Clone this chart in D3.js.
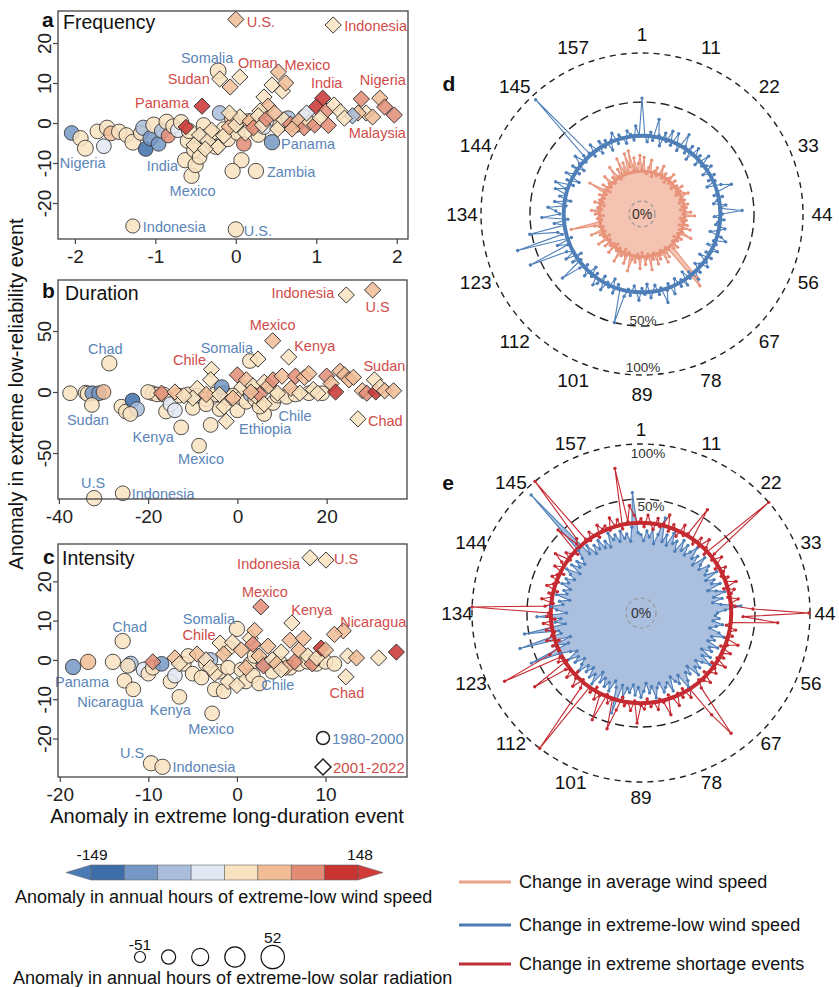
<!DOCTYPE html>
<html><head><meta charset="utf-8">
<script src="https://cdnjs.cloudflare.com/ajax/libs/d3/7.8.5/d3.min.js"></script>
<style>body{margin:0;background:#fff}svg{display:block}</style>
</head><body>
<svg id="c" width="839" height="987"></svg>
<script>
// ---------------- DATA ----------------
// scatter points: [x, y, windAnomaly, solarAnomaly, label]
const aCircles=[[-2.04,-2.5,-95,-20,"Nigeria"],[-1.93,-3.8,15,-15],[-1.87,-6.3,8,-10],[-1.72,-2.1,5,-20],[-1.64,-5.8,-25,-20],[-1.6,-1.2,12,-15],[-1.55,-2.6,45,-20],[-1.45,-2.2,20,-15],[-1.36,-3.0,22,-20],[-1.28,-4.8,25,-10],[-1.18,-2.5,10,-20],[-1.15,-1.2,-60,-15],[-1.12,-6.5,-115,-20],[-1.06,-3.8,-110,-15],[-1.02,-0.5,18,-10],[-0.96,-5.2,-95,-20],[-0.92,-2.0,-50,-20],[-0.86,0.3,10,-15],[-0.84,-3.2,85,-25],[-0.78,-0.8,12,-20],[-0.72,-1.8,-20,-20],[-0.68,0.2,8,-15],[-0.63,-9.3,15,-15,"India"],[-0.6,-4.5,10,-20],[-0.58,-2.0,20,-15],[-0.55,-13.2,5,-15,"Mexico"],[-0.52,-6.8,15,-20],[-0.5,-10.5,20,-15],[-0.45,-8.5,18,-20],[-0.4,-0.5,30,-20],[-0.38,-3.5,-30,-15],[-0.3,-2.5,25,-20],[-0.25,-6,12,-20],[-0.22,13,20,-10,"Somalia"],[-0.2,2.5,-60,-20],[-0.15,-1.5,30,-20],[-0.1,-4,15,-15],[-0.05,1.2,45,-20],[0.0,-26.6,25,-15,"U.S."],[0.02,-2.5,20,-20],[0.07,-9.3,2,-15],[-0.04,-12,22,-15],[0.1,-5.2,95,-20],[0.15,0.5,40,-20],[0.25,-12,20,-15,"Zambia"],[0.28,-3,15,-20],[0.35,-1.0,-20,-20],[0.45,-4.8,-100,-15,"Panama"],[0.55,-0.5,30,-20],[0.65,1.2,-55,-20],[0.75,-0.5,15,-20],[0.85,1.5,10,-20],[-1.28,-25.75,30,-25,"Indonesia"]];
const aDiamonds=[[0.0,25.9,45,-20,"U.S."],[1.21,24.5,25,-20,"Indonesia"],[-0.2,11,25,-20,"Sudan"],[0.05,11.5,25,-20,"Oman"],[-0.07,9,60,-20],[0.53,12.75,60,-20,"Mexico"],[0.45,9.5,20,-20],[0.58,8,30,-20],[0.62,10,40,-20],[0.35,6.5,25,-20],[0.4,4.2,45,-20],[0.3,3,20,-20],[1.08,6.2,115,-20,"India"],[1.0,4,115,-20],[1.12,3,90,-20],[1.22,4.5,30,-20],[1.3,2.8,20,-20],[1.56,6,80,-20],[1.79,6.2,70,-20,"Nigeria"],[1.85,4,85,-20],[1.97,2,105,-20,"Malaysia"],[1.62,2.5,30,-20],[1.52,2.5,45,-20],[1.45,1.8,-60,-20],[1.7,1.5,50,-20],[-0.42,4.2,120,-20,"Panama"],[-0.62,-1,115,-25],[-0.45,-3,30,-20],[-0.35,-4.5,25,-20],[-0.3,-1.8,20,-20],[-0.22,-6,30,-20],[-0.15,-3.2,25,-20],[-0.08,-1,45,-20],[0.0,-0.5,20,-20],[0.05,1.5,35,-20],[0.12,-2.5,25,-20],[0.18,0.5,60,-20],[0.22,-1.2,75,-20],[0.28,1.8,30,-20],[0.33,-0.5,20,-20],[0.38,1.0,85,-20],[0.48,2.5,40,-20],[0.52,-1.5,30,-20],[0.6,0.8,25,-20],[0.68,-0.3,90,-20],[0.78,0.5,45,-20],[0.85,-1.2,100,-20],[0.92,0.2,25,-20],[0.98,-0.5,95,-20],[1.05,1.2,30,-20],[0.88,2.5,-10,-20],[-0.52,-5.5,30,-20],[-0.38,-6.5,25,-20],[-0.08,2.5,30,-20],[0.7,-1.5,60,-20],[1.15,-0.6,80,-20],[1.35,1.2,35,-20]];

const bCircles=[[-37.5,-1,10,-20],[-34,-0.5,30,-20],[-33.5,-1.5,20,-15],[-32.5,-1,-100,-20],[-31,-1,-90,-20],[-30,0,55,-20],[-32.6,-10.6,20,-20,"Sudan"],[-28.7,23.5,30,-15,"Chad"],[-26,-12,15,-20],[-25,-16,10,-20],[-23.5,-7,-120,-20],[-22.5,-14,-40,-20],[-24,-18,10,-20],[-19,-1,15,-20],[-18,-2,20,-20],[-16.5,-2,10,-20],[-16,-16,5,-20],[-15,-10,-30,-20],[-14,-15,-10,-20],[-13,-3,25,-20],[-12.6,-29,35,-20,"Kenya"],[-11,-2,15,-20],[-10,-13,20,-20],[-9,-3,-10,-20],[-8.6,-44,5,-20,"Mexico"],[-7,-6,20,-20],[-6,-27,30,-20],[-5,-2,15,-20],[-4,-14,25,-20],[-3,-1,-80,-20],[-2,-5,10,-20],[-1,-3,20,-20],[0,-15,5,-20],[1,-5,15,-20],[2,-8,25,-20],[3,-2,-40,-20],[4,-6,20,-20],[2.8,25.4,30,-20,"Somalia"],[6,-18,25,-20,"Ethiopia"],[8,-9,20,-20,"Chile"],[9,-3,15,-20],[11,-4,20,-20],[13,-2,10,-20],[16,-1,15,-20],[19,-1,10,-20],[-32.1,-87,25,-15,"U.S"],[-25.7,-83,35,-20,"Indonesia"],[-20,0,10,-20],[-7,-10,15,-20],[-3.5,4,-90,-20],[5,-12,20,-20]];
const bDiamonds=[[24.4,79.5,30,-20,"Indonesia"],[30.3,83.6,40,-20,"U.S"],[7.9,42,70,-20,"Mexico"],[11.5,28.7,25,-20,"Kenya"],[4.6,27,25,-20],[-5.8,18.5,30,-20,"Chile"],[30.7,10,30,-20,"Sudan"],[27,-22,30,-20,"Chad"],[-17,-1,80,-20],[-14,0,40,-20],[-9,3,30,-20],[-7,-2,40,-20],[-6,10,25,-20],[-4,-2,25,-20],[-3,-12,30,-20],[-2.5,-24,30,-20],[-1,-5,50,-20],[0,14,80,-20],[1,4,30,-20],[2,10,60,-20],[3.5,5,25,-20],[4,-3,35,-20],[5,-2,80,-20],[6,8,20,-20],[7,5,60,-20],[8,10,90,-20],[9,-1,30,-20],[10,13,40,-20],[12,3,60,-20],[13,13,80,-20],[14,-1,25,-20],[15,12,70,-20],[16,15,40,-20],[17,2,30,-20],[18,-1,20,-20],[20,13,80,-20],[21,7,60,-20],[22,0,120,-20],[23,17,60,-20],[24,14,70,-20],[25,10,50,-20],[26,12,60,-20],[28,1,40,-20],[29,-1,100,-20],[31,0,120,-20],[32,4,30,-20],[33,1,40,-20],[35,1,60,-20],[-10,-5,30,-20],[-12,-3,20,-20],[6,-10,25,-20],[3,0,40,-20]];

const cCircles=[[-18.5,-1.8,-110,-15,"Panama"],[-16.8,-0.5,50,-15],[-14,-0.5,10,-15],[-12.9,4.8,30,-15,"Chad"],[-12.7,-5.3,20,-20],[-11.7,-7.5,25,-20,"Nicaragua"],[-12,-1,-40,-15],[-12.3,-1.5,15,-20],[-10.5,-2.5,-30,-15],[-10,-3.5,25,-20],[-9.5,-2,10,-20],[-8.5,-1,-100,-20],[-7.5,-5.5,15,-20],[-7,-4,-20,-20],[-6.5,-9.4,30,-20,"Kenya"],[-6,-1,20,-20],[-5,-3.5,25,-20],[-4,-4.5,15,-20],[-3.5,-1,10,-20],[-2.8,-13.6,8,-20,"Mexico"],[-2.5,-7.5,10,-20],[-2,-3,20,-20],[-1.5,-8,15,-20],[-1,-2,25,-20],[0,7.9,25,-15,"Somalia"],[0.5,-2.5,20,-20],[1,-5.5,15,-20],[1.5,-1,30,-20],[1.8,-4,20,-20,"Chile"],[2,1,10,-20],[3,-1,-50,-20],[4,-3,20,-20],[5,-1,15,-20],[6,-2,10,-20],[7,-1,20,-20],[8,-0.5,10,-20],[9,-1,15,-20],[10,-0.5,5,-20],[11,-1,10,-20],[-9.7,-26.3,25,-15,"U.S"],[-8.4,-27.2,35,-15,"Indonesia"],[-3,0,-60,-20],[-1,3,20,-20],[2.5,-6,15,-20],[-5.5,1,20,-20]];
const cDiamonds=[[8.25,26,25,-20,"Indonesia"],[10.05,25.4,25,-20,"U.S"],[2.7,13.5,75,-20,"Mexico"],[6.2,9.4,25,-20,"Kenya"],[12,7.4,60,-20,"Nicaragua"],[12.3,-4.3,35,-20,"Chad"],[-1.9,4.3,25,-20,"Chile"],[-9.5,-0.5,90,-20],[-7,0.5,50,-20],[-6.5,-1,30,-20],[-4.5,1.5,40,-20],[-3.5,0,30,-20],[-2.5,-3.5,25,-20],[-1.5,1.5,40,-20],[-1,-5.5,30,-20],[-0.5,4.5,25,-20],[0,-6.5,35,-20],[0.5,2.5,60,-20],[1,-2,40,-20],[1.5,5.5,30,-20],[2,7.5,70,-20],[2.5,1,50,-20],[3,-1.5,80,-20],[3.5,3.5,40,-20],[4,0,30,-20],[4.5,-1,60,-20],[5,2,35,-20],[5.5,-2,45,-20],[6,5,50,-20],[6.5,-0.5,80,-20],[7,2.5,40,-20],[7.5,5.5,60,-20],[8,1,30,-20],[8.5,-1,90,-20],[9,0.5,25,-20],[9.5,3,115,-20],[10,2.5,40,-20],[11,6.5,60,-20],[12.5,1,30,-20],[13.5,0.5,50,-20],[16,0.5,10,-20],[18,2,120,-20],[-3,-2,30,-20],[1.8,4,80,-20],[5,-2.5,25,-20]];

// axis ticks
const aXTicks=[-2,-1,0,1,2], aYTicks=[-20,-10,0,10,20];
const bXTicks=[-40,-20,0,20], bYTicks=[-50,0,50];
const cXTicks=[-20,-10,0,10], cYTicks=[-20,-10,0,10,20];

// colour legend
const windBreaks=[-112,-75,-38,0,37,74,111];
const windRange=[-149,148];
const solarLegend=[-51,-25,0,26,52];

// radial series (% change, one value per country, 176 countries)
const dAvgWind=[16,22,15,14,17,21,15,13,16,18,14,15,20,16,14,17,
15,13,16,19,14,15,17,14,13,16,15,18,14,16,13,17,
19,15,14,16,13,15,17,14,16,13,15,18,14,20,15,13,
16,14,15,17,13,19,15,14,16,21,14,15,17,13,16,15,
14,18,15,17,36,40,16,14,19,15,21,14,16,18,15,20,
14,17,15,22,14,16,19,15,13,21,16,14,18,15,17,23,
15,14,20,16,13,17,15,21,14,16,15,13,19,14,16,15,
18,14,15,20,13,16,15,17,14,21,15,14,16,18,30,15,
14,16,15,13,17,15,19,14,16,15,13,18,14,16,15,14,
17,15,14,24,16,13,18,15,14,16,20,15,14,17,15,22,
16,14,19,15,24,16,21,15,25,18,26,16,22,15,19,23];
const dLowWind=[54,33,30,35,31,42,34,29,36,32,38,31,38,33,30,40,
34,31,36,29,37,33,35,30,38,32,34,36,30,33,35,31,
34,29,36,41,33,31,35,32,30,36,33,44,34,30,35,32,
31,36,33,29,35,38,32,34,30,36,33,31,35,29,34,36,
32,30,35,33,37,31,34,29,36,32,35,30,33,37,31,34,
40,32,35,30,33,36,29,34,31,37,33,30,35,32,36,50,
33,31,36,29,34,32,37,30,35,37,31,34,29,36,33,31,
35,45,32,36,30,38,33,36,61,34,39,31,68,35,37,52,
33,38,31,44,35,37,41,32,38,30,36,33,39,34,40,31,
35,29,37,33,31,36,30,34,38,32,35,95,34,31,37,33,
30,36,32,35,29,34,37,31,35,33,30,36,34,31,38,33];
const eLowWind=[32,29,34,31,35,28,33,42,30,34,29,36,31,33,28,35,
30,34,29,32,36,30,33,28,35,31,29,34,32,30,36,29,
33,31,35,28,32,36,30,34,29,33,43,35,31,30,32,29,
34,31,28,33,36,30,32,29,35,31,33,28,34,30,36,32,
29,33,31,35,28,32,30,34,37,29,33,31,28,35,30,32,
34,29,31,36,30,33,28,32,35,30,34,29,33,31,36,30,
45,32,29,35,31,34,30,33,28,36,31,34,29,33,30,35,
32,29,34,31,36,30,33,38,56,32,40,30,61,34,35,54,
31,36,33,45,30,35,38,32,34,29,36,31,33,30,35,32,
34,30,33,36,29,35,31,34,30,33,37,93,32,36,30,34,
31,35,30,33,29,36,32,34,30,35,31,33,29,36,56,33];
const eShortage=[40,36,42,38,35,41,37,39,44,36,40,38,35,42,37,39,
58,38,36,41,37,43,39,36,100,40,37,42,38,36,41,39,
37,40,38,43,36,41,39,37,42,38,40,49,99,44,71,38,
36,41,38,40,37,44,39,36,42,38,40,37,43,36,39,41,
38,36,42,39,37,41,83,59,38,42,36,40,37,43,38,36,
46,39,37,42,38,40,36,41,39,48,37,42,38,40,36,43,
56,38,41,37,53,39,42,36,40,38,100,41,37,43,39,36,
42,38,40,64,37,41,39,85,43,38,40,36,42,39,37,41,
38,42,36,40,39,100,41,37,43,38,40,36,42,39,37,41,
39,36,42,38,40,45,37,41,38,36,53,40,42,100,39,37,
41,38,36,42,39,40,37,43,38,41,36,80,39,47,42,38];
const ringLevels={dAvg:15,dLow:33,eShort:38};
const radialTicks=["1","11","22","33","44","56","67","78","89","101","112","123","134","144","145","157"];
const pctLevels=[0,50,100];
const lineLegend=["Change in average wind speed","Change in extreme-low wind speed","Change in extreme shortage events"];

// ---------------- STYLE / LAYOUT ----------------
const FONT='"Liberation Sans", Arial, Helvetica, sans-serif';
const RED='#d14b49', BLUE='#5b85b8';
const binColors=["#3e6ea9","#7497c4","#a9bedb","#e2e8f3","#f9e2c0","#f1bc96","#e28c75","#c93331"];
const ORANGE='#e8937a', ORANGE_FILL='#f4c3b1', LBLUE='#4f7fb8', BFILL='#abc0df', DRED='#c52a31';
const color=d3.scaleThreshold().domain(windBreaks).range(binColors);
const size=d3.scaleLinear().domain([solarLegend[0],solarLegend[4]]).range([5.5,11.7]);
const svg=d3.select('#c').attr('font-family',FONT);

// label offsets [dx,dy,anchor] keyed by panel|name|type
const LAB={
 'a|Nigeria|c':[11,30,'middle'],'a|India|c':[-7,6,'end'],'a|Mexico|c':[1,15,'middle'],'a|Somalia|c':[-11,-13,'middle'],'a|U.S.|c':[8,2,'start'],'a|Zambia|c':[11,1,'start'],'a|Panama|c':[9,2,'start'],'a|Indonesia|c':[10,1,'start'],
 'a|U.S.|d':[11,3,'start'],'a|Indonesia|d':[11,1,'start'],'a|Sudan|d':[-10,0,'end'],'a|Oman|d':[18,-14,'middle'],'a|Mexico|d':[29,-7,'middle'],'a|India|d':[4,-15,'middle'],'a|Nigeria|d':[3,-18,'middle'],'a|Malaysia|d':[-17,18,'middle'],'a|Panama|d':[-13,-3,'end'],
 'b|Chad|c':[-4,-14,'middle'],'b|Sudan|c':[-4,15,'middle'],'b|Kenya|c':[-28,10,'middle'],'b|Mexico|c':[2,13,'middle'],'b|Chile|c':[22,13,'middle'],'b|Ethiopia|c':[1,15,'middle'],'b|U.S|c':[-1,-15,'middle'],'b|Indonesia|c':[9,1,'start'],'b|Somalia|c':[-23,-13,'middle'],
 'b|Indonesia|d':[-12,-2,'end'],'b|U.S|d':[5,17,'middle'],'b|Mexico|d':[0,-16,'middle'],'b|Kenya|d':[26,-11,'middle'],'b|Chile|d':[-22,-9,'middle'],'b|Sudan|d':[10,-14,'middle'],'b|Chad|d':[10,2,'start'],
 'c|Somalia|c':[-28,-10,'middle'],'c|Chile|c':[25,9,'middle'],'c|Chad|c':[7,-14,'middle'],'c|Panama|c':[9,15,'middle'],'c|Nicaragua|c':[-23,13,'middle'],'c|Kenya|c':[-9,13,'middle'],'c|Mexico|c':[-1,16,'middle'],'c|U.S|c':[-19,-10,'middle'],'c|Indonesia|c':[10,0,'start'],
 'c|Indonesia|d':[-10,6,'end'],'c|U.S|d':[8,-1,'start'],'c|Mexico|d':[4,-15,'middle'],'c|Kenya|d':[20,-13,'middle'],'c|Nicaragua|d':[30,-9,'middle'],'c|Chad|d':[1,16,'middle'],'c|Chile|d':[-21,-8,'middle']
};

function panel(p){
  const g=svg.append('g');
  const [L,T,R,B]=p.box;
  const x=d3.scaleLinear().domain(p.xd).range([L,R]);
  const y=d3.scaleLinear().domain(p.yd).range([B,T]);
  g.append('rect').attr('x',L).attr('y',T).attr('width',R-L).attr('height',B-T).attr('fill','#fff');
  const xa=g.append('g').attr('transform',`translate(0,${B})`)
    .call(d3.axisBottom(x).tickValues(p.xt).tickSize(5).tickPadding(6).tickFormat(d=>String(d)));
  xa.select('.domain').remove();
  xa.selectAll('line').attr('stroke','#444').attr('stroke-width',1.2);
  xa.selectAll('text').attr('font-size',19).attr('fill','#222').attr('font-family',FONT);
  const ya=g.append('g').attr('transform',`translate(${L},0)`)
    .call(d3.axisLeft(y).tickValues(p.yt).tickSize(5).tickFormat(d=>String(d)));
  ya.select('.domain').remove();
  ya.selectAll('line').attr('stroke','#444').attr('stroke-width',1.2);
  ya.selectAll('text').attr('font-size',19).attr('fill','#222').attr('font-family',FONT)
    .attr('x',0).attr('dy',null).attr('text-anchor','middle').attr('transform','translate(-7,0) rotate(-90)');
  const pts=g.append('g');
  pts.selectAll('circle').data(p.circles).join('circle')
    .attr('cx',d=>x(d[0])).attr('cy',d=>y(d[1])).attr('r',d=>size(d[3]))
    .attr('fill',d=>color(d[2])).attr('fill-opacity',0.85).attr('stroke','#3a3a3a').attr('stroke-width',0.9);
  pts.selectAll('path').data(p.diamonds).join('path')
    .attr('d',d=>{const h=size(d[3])*1.1;return d3.symbol(d3.symbolSquare,2*h*h)();})
    .attr('transform',d=>`translate(${x(d[0])},${y(d[1])}) rotate(45)`)
    .attr('fill',d=>color(d[2])).attr('fill-opacity',0.85).attr('stroke','#2e2e2e').attr('stroke-width',0.9);
  const labs=[...p.circles.filter(d=>d[4]).map(d=>[d,'c']),...p.diamonds.filter(d=>d[4]).map(d=>[d,'d'])];
  g.selectAll('text.lab').data(labs).join('text').attr('class','lab')
    .each(function([d,t]){
      const o=LAB[p.id+'|'+d[4]+'|'+t]||[10,0,'start'];
      d3.select(this).attr('x',x(d[0])+o[0]).attr('y',y(d[1])+o[1]).attr('text-anchor',o[2]);
    })
    .attr('dominant-baseline','central').attr('font-size',14.5)
    .attr('fill',([d,t])=>t==='c'?BLUE:RED).text(([d])=>d[4]);
  g.append('rect').attr('x',L).attr('y',T).attr('width',R-L).attr('height',B-T)
    .attr('fill','none').attr('stroke','#444').attr('stroke-width',1.3);
  g.append('text').attr('x',p.title[1]).attr('y',p.title[2]).attr('font-size',19.5).attr('fill','#111').text(p.title[0]);
  g.append('text').attr('x',p.letter[1]).attr('y',p.letter[2]).attr('font-size',21).attr('font-weight','bold').attr('fill','#111').text(p.letter[0]);
  return {x,y,g};
}

panel({id:'a',box:[58,11,408,239],xd:[-2.21,2.14],yd:[-29,28],xt:aXTicks,yt:aYTicks,circles:aCircles,diamonds:aDiamonds,title:['Frequency',63,29],letter:['a',42,27]});
panel({id:'b',box:[58,280,407,499],xd:[-40.2,38],yd:[-87.7,91.8],xt:bXTicks,yt:bYTicks,circles:bCircles,diamonds:bDiamonds,title:['Duration',65,300],letter:['b',42,298]});
const pc=panel({id:'c',box:[58,544,407,777],xd:[-20.2,19.2],yd:[-29.8,29.5],xt:cXTicks,yt:cYTicks,circles:cCircles,diamonds:cDiamonds,title:['Intensity',62,565],letter:['c',43,564]});

// period legend in panel c
const pl=pc.g.append('g');
pl.append('circle').attr('cx',323).attr('cy',738).attr('r',6.5).attr('fill','#fff').attr('stroke','#222').attr('stroke-width',1.5);
pl.append('path').attr('d',d3.symbol(d3.symbolSquare,2*8*8)()).attr('transform','translate(323,767) rotate(45)').attr('fill','#fff').attr('stroke','#222').attr('stroke-width',1.5);
pl.append('text').attr('x',332).attr('y',738).attr('dominant-baseline','central').attr('font-size',15).attr('fill',BLUE).text('1980-2000');
pl.append('text').attr('x',333).attr('y',767).attr('dominant-baseline','central').attr('font-size',15).attr('fill',RED).text('2001-2022');

// axis titles
svg.append('text').attr('x',227).attr('y',823).attr('text-anchor','middle').attr('font-size',20).attr('fill','#111').text('Anomaly in extreme long-duration event');
svg.append('text').attr('transform','translate(23,394) rotate(-90)').attr('text-anchor','middle').attr('font-size',20).attr('fill','#111').text('Anomaly in extreme low-reliability event');

// ---------------- RADIAL ----------------
function radial(cx,cy,rng,letter,pctPos,labOff,series){
  const g=svg.append('g').attr('transform',`translate(${cx},${cy})`);
  const r=d3.scaleLinear().domain(pctLevels).range(rng).clamp(true);
  g.append('circle').attr('r',r(100)).attr('fill','none').attr('stroke','#222').attr('stroke-width',1.4).attr('stroke-dasharray','6,5');
  g.append('circle').attr('r',r(50)).attr('fill','none').attr('stroke','#222').attr('stroke-width',1.4).attr('stroke-dasharray','9,5');
  series.forEach(s=>{
    const ang=d3.scaleLinear().domain([0,s.v.length]).range([0,2*Math.PI]);
    if(s.fill) g.append('path').datum(s.v).attr('d',d3.areaRadial().angle((d,i)=>ang(i)).innerRadius(0).outerRadius(d=>r(d)).curve(d3.curveLinearClosed)).attr('fill',s.fill);
    s.ang=ang;
  });
  series.forEach(s=>{
    g.append('path').datum(s.v).attr('d',d3.lineRadial().angle((d,i)=>s.ang(i)).radius(d=>r(d)).curve(d3.curveLinearClosed))
      .attr('fill','none').attr('stroke',s.col).attr('stroke-width',1.1);
    if(s.ring!=null) g.append('circle').attr('r',r(s.ring)).attr('fill','none').attr('stroke',s.col).attr('stroke-width',s.ringW||4);
  });
  series.forEach(s=>{
    g.append('g').selectAll('circle').data(s.v).join('circle')
      .attr('cx',(d,i)=>r(d)*Math.sin(s.ang(i))).attr('cy',(d,i)=>-r(d)*Math.cos(s.ang(i)))
      .attr('r',1.7).attr('fill',s.col);
  });
  g.append('circle').attr('r',r(0)).attr('fill','none').attr('stroke','#999').attr('stroke-width',1.2).attr('stroke-dasharray','4,3');
  g.append('text').attr('y',0).attr('text-anchor','middle').attr('dominant-baseline','central').attr('font-size',14).attr('fill','#333').text('0%');
  g.append('text').attr('x',pctPos[0]).attr('y',pctPos[1]).attr('text-anchor','middle').attr('dominant-baseline','central').attr('font-size',13.5).attr('fill','#333').text('50%');
  g.append('text').attr('x',pctPos[2]).attr('y',pctPos[3]).attr('text-anchor','middle').attr('dominant-baseline','central').attr('font-size',13.5).attr('fill','#333').text('100%');
  const tA=d3.scaleBand().domain(radialTicks).range([0,2*Math.PI]);
  const lr=r(100)+labOff;
  g.selectAll('text.tk').data(radialTicks).join('text').attr('class','tk')
    .attr('x',d=>lr*Math.sin(tA(d))).attr('y',d=>-lr*Math.cos(tA(d)))
    .attr('text-anchor','middle').attr('dominant-baseline','central').attr('font-size',19).attr('fill','#111').text(d=>d);
  svg.append('text').attr('x',cx-193).attr('y',cy-131).attr('text-anchor','middle').attr('dominant-baseline','central').attr('font-size',21).attr('font-weight','bold').attr('fill','#111').text(letter);
}
radial(642,214,[13,112,161],'d',[1,106,1,153],19,[
  {v:dAvgWind,col:ORANGE,fill:ORANGE_FILL,ring:ringLevels.dAvg,ringW:3},
  {v:dLowWind,col:LBLUE,ring:ringLevels.dLow,ringW:4}
]);
radial(641,613,[15,114,169],'e',[10,-107,7,-160],15,[
  {v:eLowWind,col:LBLUE,fill:BFILL},
  {v:eShortage,col:DRED,ring:ringLevels.eShort,ringW:4}
]);

// ---------------- LEGENDS ----------------
const lg=svg.append('g');
const cb=d3.scaleBand().domain(d3.range(binColors.length)).range([91,358]);
lg.selectAll('rect.cb').data(binColors).join('rect').attr('class','cb')
  .attr('x',(d,i)=>cb(i)).attr('y',865).attr('width',cb.bandwidth()).attr('height',15)
  .attr('fill',d=>d).attr('stroke','#666').attr('stroke-width',0.6);
lg.append('path').attr('d','M91,865 L66,872.5 L91,880 Z').attr('fill','#4a7bb6').attr('stroke','#666').attr('stroke-width',0.6);
lg.append('path').attr('d','M358,865 L383,872.5 L358,880 Z').attr('fill','#d23a37').attr('stroke','#666').attr('stroke-width',0.6);
lg.append('text').attr('x',92).attr('y',860).attr('text-anchor','middle').attr('font-size',15.5).attr('fill','#111').text(String(windRange[0]));
lg.append('text').attr('x',360).attr('y',860).attr('text-anchor','middle').attr('font-size',15.5).attr('fill','#111').text(String(windRange[1]));
lg.append('text').attr('x',15).attr('y',903).attr('font-size',18).attr('fill','#111').text('Anomaly in annual hours of extreme-low wind speed');
let cxp=140; const sx=[];
solarLegend.forEach((v,i)=>{ if(i>0) cxp+=size(solarLegend[i-1])+size(v)+16; sx.push(cxp); });
lg.selectAll('circle.sz').data(solarLegend).join('circle').attr('class','sz')
  .attr('cx',(d,i)=>sx[i]).attr('cy',957).attr('r',d=>size(d)).attr('fill','none').attr('stroke','#111').attr('stroke-width',1.2);
lg.append('text').attr('x',sx[0]).attr('y',950).attr('text-anchor','middle').attr('font-size',15.5).attr('fill','#111').text(String(solarLegend[0]));
lg.append('text').attr('x',sx[4]).attr('y',943).attr('text-anchor','middle').attr('font-size',15.5).attr('fill','#111').text(String(solarLegend[4]));
lg.append('text').attr('x',13).attr('y',984).attr('font-size',18).attr('fill','#111').text('Anomaly in annual hours of extreme-low solar radiation');
const llc=['#e6a48b','#4c7cb3','#c0303a'], lly=[882,925,964];
lineLegend.forEach((t,i)=>{
  lg.append('line').attr('x1',459).attr('x2',511).attr('y1',lly[i]).attr('y2',lly[i]).attr('stroke',llc[i]).attr('stroke-width',3);
  lg.append('text').attr('x',519).attr('y',lly[i]).attr('dominant-baseline','central').attr('font-size',18).attr('fill','#111').text(t);
});
</script>
</body></html>
